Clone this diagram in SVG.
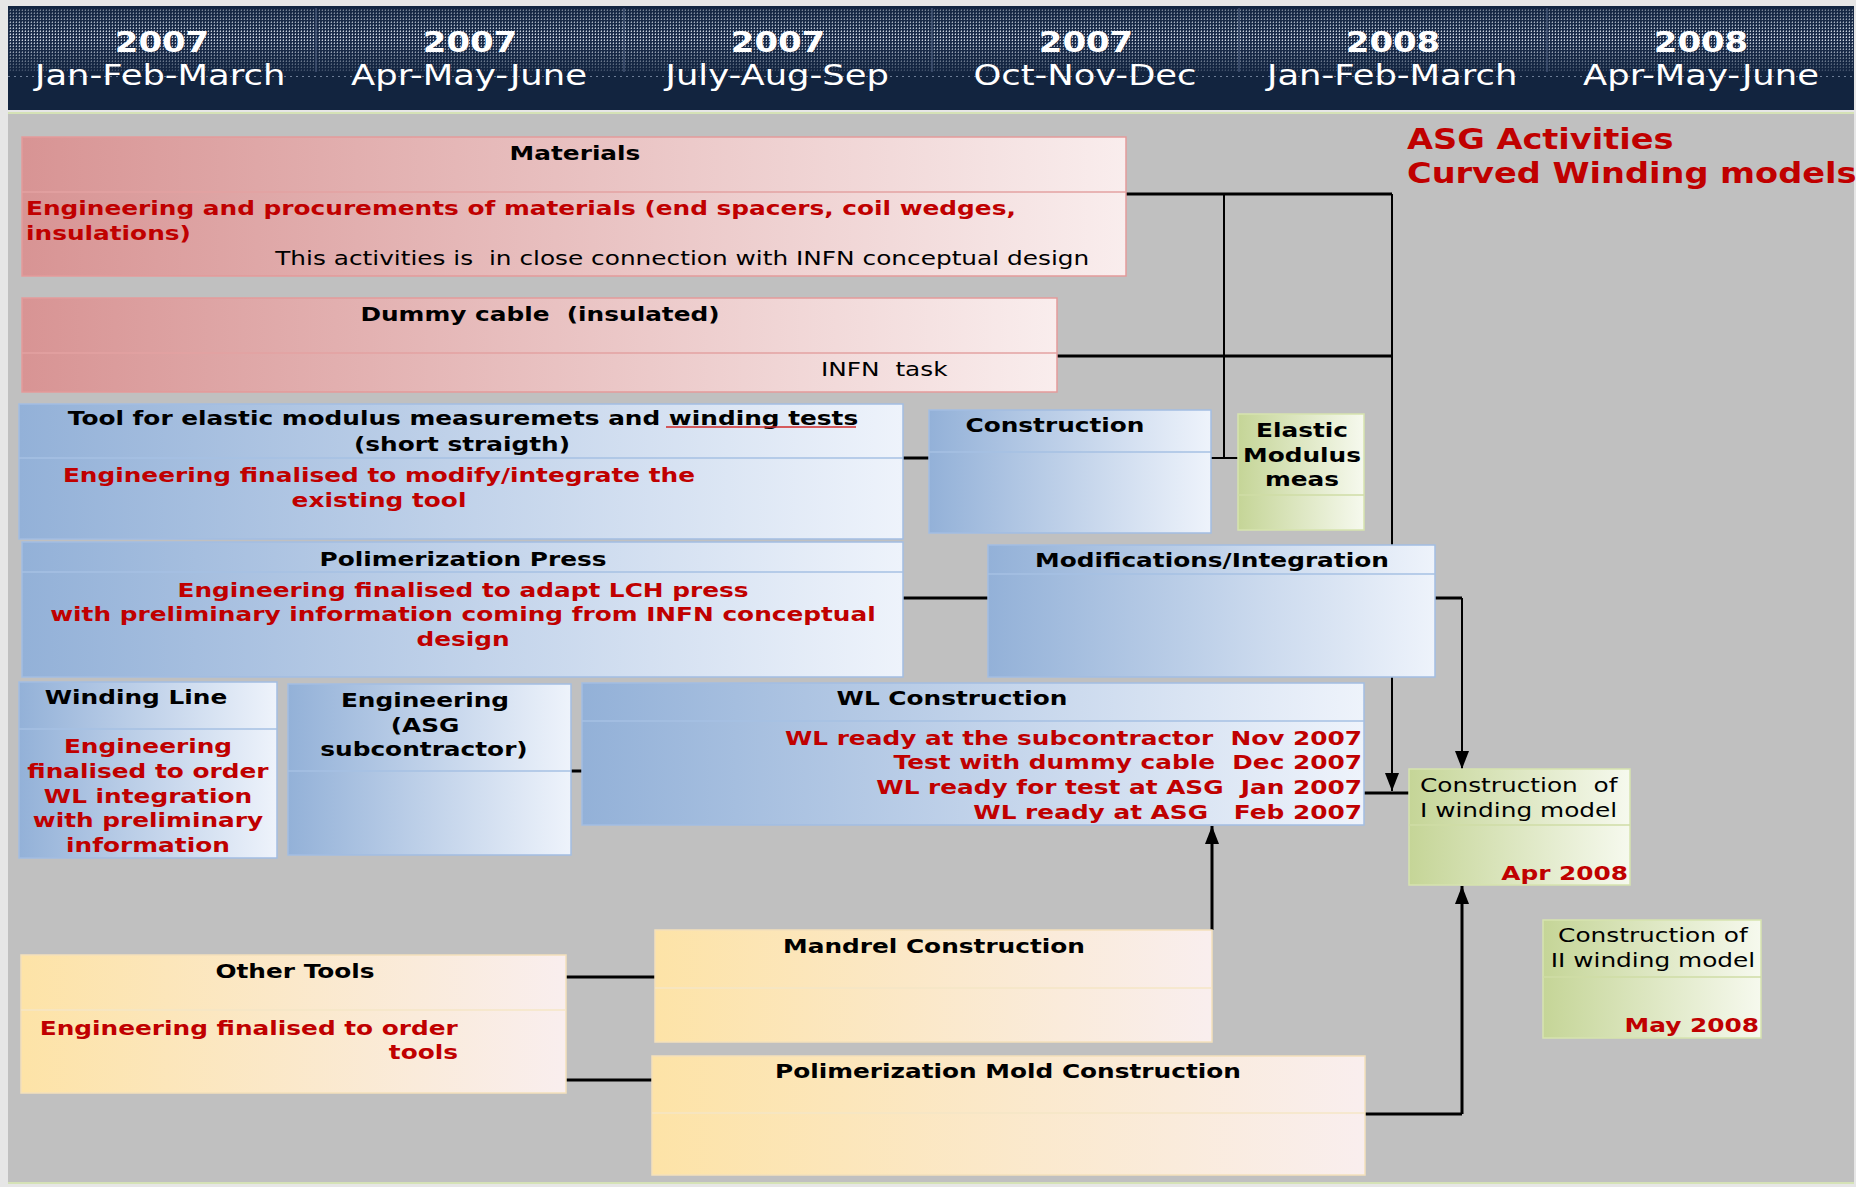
<svg xmlns="http://www.w3.org/2000/svg" width="1856" height="1187" viewBox="0 0 1856 1187">
<defs>
<style>
text{font-family:"DejaVu Sans",Verdana,sans-serif;font-size:20px;fill:#000;white-space:pre}
.b{font-weight:bold}
.r{fill:#c00000}
.w{fill:#fff}
.m{text-anchor:middle;transform-box:fill-box;transform-origin:center;transform:scaleX(1.24)}
.s{transform-box:fill-box;transform-origin:left;transform:scaleX(1.24)}
.e{text-anchor:end;transform-box:fill-box;transform-origin:right;transform:scaleX(1.24)}
.hy{text-anchor:middle;transform-box:fill-box;transform-origin:center;transform:scaleX(1.17)}
.hmo{text-anchor:middle;transform-box:fill-box;transform-origin:center;transform:scaleX(1.22)}
.ts{transform-box:fill-box;transform-origin:left;transform:scaleX(1.2)}
.yr{font-size:29px;font-weight:bold}
.mo{font-size:29px}
.big{font-size:28px;font-weight:bold}
.pk{fill:url(#gPink);stroke:#e39a9a;stroke-width:1.5}
.bl{fill:url(#gBlue);stroke:#a2bde2;stroke-width:1.5}
.gr{fill:url(#gGreen);stroke:#d6e3ae;stroke-width:1.5}
.ye{fill:url(#gYel);stroke:#f3e0bb;stroke-width:1.5}
.dpk{stroke:#e3a2a2;stroke-width:1.5}
.dbl{stroke:#a6c0e3;stroke-width:1.5}
.dgr{stroke:#cfdca6;stroke-width:1.5}
.dye{stroke:#f5e6c6;stroke-width:1.5}
.th{fill:none;stroke:#000;stroke-width:3}
.tn{fill:none;stroke:#000;stroke-width:2}
</style>
<linearGradient id="gPink" x1="0" y1="0" x2="1" y2="0"><stop offset="0" stop-color="#d89494"/><stop offset="1" stop-color="#f9eded"/></linearGradient>
<linearGradient id="gBlue" x1="0" y1="0" x2="1" y2="0"><stop offset="0" stop-color="#93b1d8"/><stop offset="1" stop-color="#eef3fb"/></linearGradient>
<linearGradient id="gGreen" x1="0" y1="0" x2="1" y2="0"><stop offset="0" stop-color="#c5d597"/><stop offset="1" stop-color="#f6f9ee"/></linearGradient>
<linearGradient id="gYel" x1="0" y1="0" x2="1" y2="0"><stop offset="0" stop-color="#fde3a7"/><stop offset="1" stop-color="#f9eeee"/></linearGradient>
<pattern id="dots" width="3" height="3" patternUnits="userSpaceOnUse"><rect width="3" height="3" fill="#1b2c4a"/><rect x="1" y="1" width="1" height="1" fill="#dde3ec"/><rect x="1" y="0" width="1" height="1" fill="#8a99ae"/><rect x="0" y="1" width="1" height="1" fill="#56667f"/></pattern>
<linearGradient id="gMask" x1="0" y1="0" x2="0" y2="1"><stop offset="0" stop-color="#fff" stop-opacity="0.45"/><stop offset="0.45" stop-color="#fff" stop-opacity="1"/><stop offset="1" stop-color="#fff" stop-opacity="0.2"/></linearGradient>
<mask id="hm"><rect x="8" y="8" width="1846" height="64" fill="url(#gMask)"/></mask>
<pattern id="dotrow" width="6" height="3" patternUnits="userSpaceOnUse"><rect x="2" y="1" width="2" height="1" fill="#6d7d96"/></pattern>
<marker id="arrU" markerUnits="userSpaceOnUse" markerWidth="14" markerHeight="18" viewBox="0 0 14 18" refX="7" refY="0" orient="0"><path d="M0,18 L14,18 L7,0 Z" fill="#000"/></marker>
<marker id="arrD" markerUnits="userSpaceOnUse" markerWidth="14" markerHeight="18" viewBox="0 0 14 18" refX="7" refY="18" orient="0"><path d="M0,0 L14,0 L7,18 Z" fill="#000"/></marker>
</defs>

<rect x="0" y="0" width="1856" height="1187" fill="#e6e6e6"/>
<rect x="8" y="113" width="1846" height="1070" fill="#c0c0c0"/>
<line x1="8" y1="113" x2="1854" y2="113" stroke="#d5e2b6" stroke-width="2"/>
<line x1="8" y1="1183" x2="1854" y2="1183" stroke="#d5e2b6" stroke-width="2"/>

<g id="header">
<rect x="8" y="6" width="1846" height="104" fill="#12243f"/>
<rect x="8" y="8" width="1846" height="64" fill="url(#dots)" mask="url(#hm)"/>
<rect x="8" y="75" width="1846" height="4" fill="url(#dotrow)"/>
<g stroke="#3f5170" stroke-width="1.5">
<line x1="316" y1="8" x2="316" y2="72"/><line x1="624" y1="8" x2="624" y2="72"/><line x1="932" y1="8" x2="932" y2="72"/><line x1="1239" y1="8" x2="1239" y2="72"/><line x1="1547" y1="8" x2="1547" y2="72"/>
</g>
<text class="yr w hy" x="162" y="52">2007</text>
<text class="yr w hy" x="470" y="52">2007</text>
<text class="yr w hy" x="778" y="52">2007</text>
<text class="yr w hy" x="1086" y="52">2007</text>
<text class="yr w hy" x="1393" y="52">2008</text>
<text class="yr w hy" x="1701" y="52">2008</text>
<text class="mo w hmo" x="160" y="85">Jan-Feb-March</text>
<text class="mo w hmo" x="469" y="85">Apr-May-June</text>
<text class="mo w hmo" x="777" y="85">July-Aug-Sep</text>
<text class="mo w hmo" x="1085" y="85">Oct-Nov-Dec</text>
<text class="mo w hmo" x="1392" y="85">Jan-Feb-March</text>
<text class="mo w hmo" x="1701" y="85">Apr-May-June</text>
</g>

<g id="title">
<text class="big r ts" x="1407" y="149">ASG Activities</text>
<text class="big r ts" x="1407" y="183">Curved Winding models</text>
</g>

<g id="connectors">
<path class="th" d="M1126,194 H1392"/>
<path class="tn" d="M1392,194 V791" marker-end="url(#arrD)"/>
<path class="tn" d="M1224,194 V458"/>
<path class="tn" d="M1211,458 H1238"/>
<path class="th" d="M1057,356 H1392"/>
<path class="th" d="M903,458 H929"/>
<path class="th" d="M903,598 H988"/>
<path class="th" d="M1435,598 H1462"/>
<path class="tn" d="M1462,598 V769" marker-end="url(#arrD)"/>
<path class="th" d="M1364,793 H1409"/>
<path class="th" d="M571,771 H582"/>
<path class="th" d="M1212,930 V826" marker-end="url(#arrU)"/>
<path class="th" d="M566,977 H655"/>
<path class="th" d="M566,1080 H652"/>
<path class="th" d="M1365,1114 H1462"/>
<path class="th" d="M1462,1114 V886" marker-end="url(#arrU)"/>
</g>

<g id="materials">
<rect class="pk" x="22" y="137" width="1104" height="139"/>
<line class="dpk" x1="22" y1="192" x2="1126" y2="192"/>
<text class="b m" x="575" y="160">Materials</text>
<text class="b r s" x="26" y="215">Engineering and procurements of materials (end spacers, coil wedges,</text>
<text class="b r s" x="26" y="240">insulations)</text>
<text class="s" x="275" y="265">This activities is  in close connection with INFN conceptual design</text>
</g>

<g id="dummy-cable">
<rect class="pk" x="22" y="298" width="1035" height="94"/>
<line class="dpk" x1="22" y1="353" x2="1057" y2="353"/>
<text class="b m" x="540" y="321">Dummy cable  (insulated)</text>
<text class="s" x="821" y="376">INFN  task</text>
</g>

<g id="tool">
<rect class="bl" x="19" y="404" width="884" height="135"/>
<line class="dbl" x1="19" y1="458" x2="903" y2="458"/>
<text class="b m" x="463" y="425">Tool for elastic modulus measuremets and winding tests</text>
<line x1="666" y1="427" x2="856" y2="427" stroke="#d02a2a" stroke-width="1.5"/>
<text class="b m" x="462" y="451">(short straigth)</text>
<text class="b r m" x="379" y="482">Engineering finalised to modify/integrate the</text>
<text class="b r m" x="379" y="507">existing tool</text>
</g>

<g id="construction">
<rect class="bl" x="929" y="410" width="282" height="123"/>
<line class="dbl" x1="929" y1="452" x2="1211" y2="452"/>
<text class="b m" x="1055" y="432">Construction</text>
</g>

<g id="elastic">
<rect class="gr" x="1238" y="414" width="126" height="116"/>
<line class="dgr" x1="1238" y1="495" x2="1364" y2="495"/>
<text class="b m" x="1302" y="437">Elastic</text>
<text class="b m" x="1302" y="462">Modulus</text>
<text class="b m" x="1302" y="486">meas</text>
</g>

<g id="press">
<rect class="bl" x="22" y="542" width="881" height="135"/>
<line class="dbl" x1="22" y1="572" x2="903" y2="572"/>
<text class="b m" x="463" y="566">Polimerization Press</text>
<text class="b r m" x="463" y="597">Engineering finalised to adapt LCH press</text>
<text class="b r m" x="463" y="621">with preliminary information coming from INFN conceptual</text>
<text class="b r m" x="463" y="646">design</text>
</g>

<g id="modifications">
<rect class="bl" x="988" y="545" width="447" height="132"/>
<line class="dbl" x1="988" y1="574" x2="1435" y2="574"/>
<text class="b m" x="1212" y="567">Modifications/Integration</text>
</g>

<g id="winding-line">
<rect class="bl" x="19" y="682" width="258" height="176"/>
<line class="dbl" x1="19" y1="729" x2="277" y2="729"/>
<text class="b m" x="136" y="704">Winding Line</text>
<text class="b r m" x="148" y="753">Engineering</text>
<text class="b r m" x="148" y="778">finalised to order</text>
<text class="b r m" x="148" y="803">WL integration</text>
<text class="b r m" x="148" y="827">with preliminary</text>
<text class="b r m" x="148" y="852">information</text>
</g>

<g id="engineering-asg">
<rect class="bl" x="288" y="684" width="283" height="171"/>
<line class="dbl" x1="288" y1="771" x2="571" y2="771"/>
<text class="b m" x="425" y="707">Engineering</text>
<text class="b m" x="425" y="732">(ASG</text>
<text class="b m" x="424" y="756">subcontractor)</text>
</g>

<g id="wl-construction">
<rect class="bl" x="582" y="683" width="782" height="142"/>
<line class="dbl" x1="582" y1="721" x2="1364" y2="721"/>
<text class="b m" x="952" y="705">WL Construction</text>
<text class="b r e" x="1362" y="745">WL ready at the subcontractor  Nov 2007</text>
<text class="b r e" x="1362" y="769">Test with dummy cable  Dec 2007</text>
<text class="b r e" x="1362" y="794">WL ready for test at ASG  Jan 2007</text>
<text class="b r e" x="1362" y="819">WL ready at ASG   Feb 2007</text>
</g>

<g id="construction-1">
<rect class="gr" x="1409" y="769" width="221" height="116"/>
<line class="dgr" x1="1409" y1="825" x2="1630" y2="825"/>
<text class="s" x="1420" y="792">Construction  of</text>
<text class="s" x="1420" y="817">I winding model</text>
<text class="b r e" x="1628" y="880">Apr 2008</text>
</g>

<g id="construction-2">
<rect class="gr" x="1543" y="920" width="218" height="118"/>
<line class="dgr" x1="1543" y1="977" x2="1761" y2="977"/>
<text class="m" x="1653" y="942">Construction of</text>
<text class="m" x="1653" y="967">II winding model</text>
<text class="b r e" x="1759" y="1032">May 2008</text>
</g>

<g id="other-tools">
<rect class="ye" x="21" y="955" width="545" height="138"/>
<line class="dye" x1="21" y1="1010" x2="566" y2="1010"/>
<text class="b m" x="295" y="978">Other Tools</text>
<text class="b r e" x="458" y="1035">Engineering finalised to order</text>
<text class="b r e" x="458" y="1059">tools</text>
</g>

<g id="mandrel">
<rect class="ye" x="655" y="930" width="557" height="112"/>
<line class="dye" x1="655" y1="988" x2="1212" y2="988"/>
<text class="b m" x="934" y="953">Mandrel Construction</text>
</g>

<g id="mold">
<rect class="ye" x="652" y="1056" width="713" height="119"/>
<line class="dye" x1="652" y1="1113" x2="1365" y2="1113"/>
<text class="b m" x="1008" y="1078">Polimerization Mold Construction</text>
</g>
</svg>
